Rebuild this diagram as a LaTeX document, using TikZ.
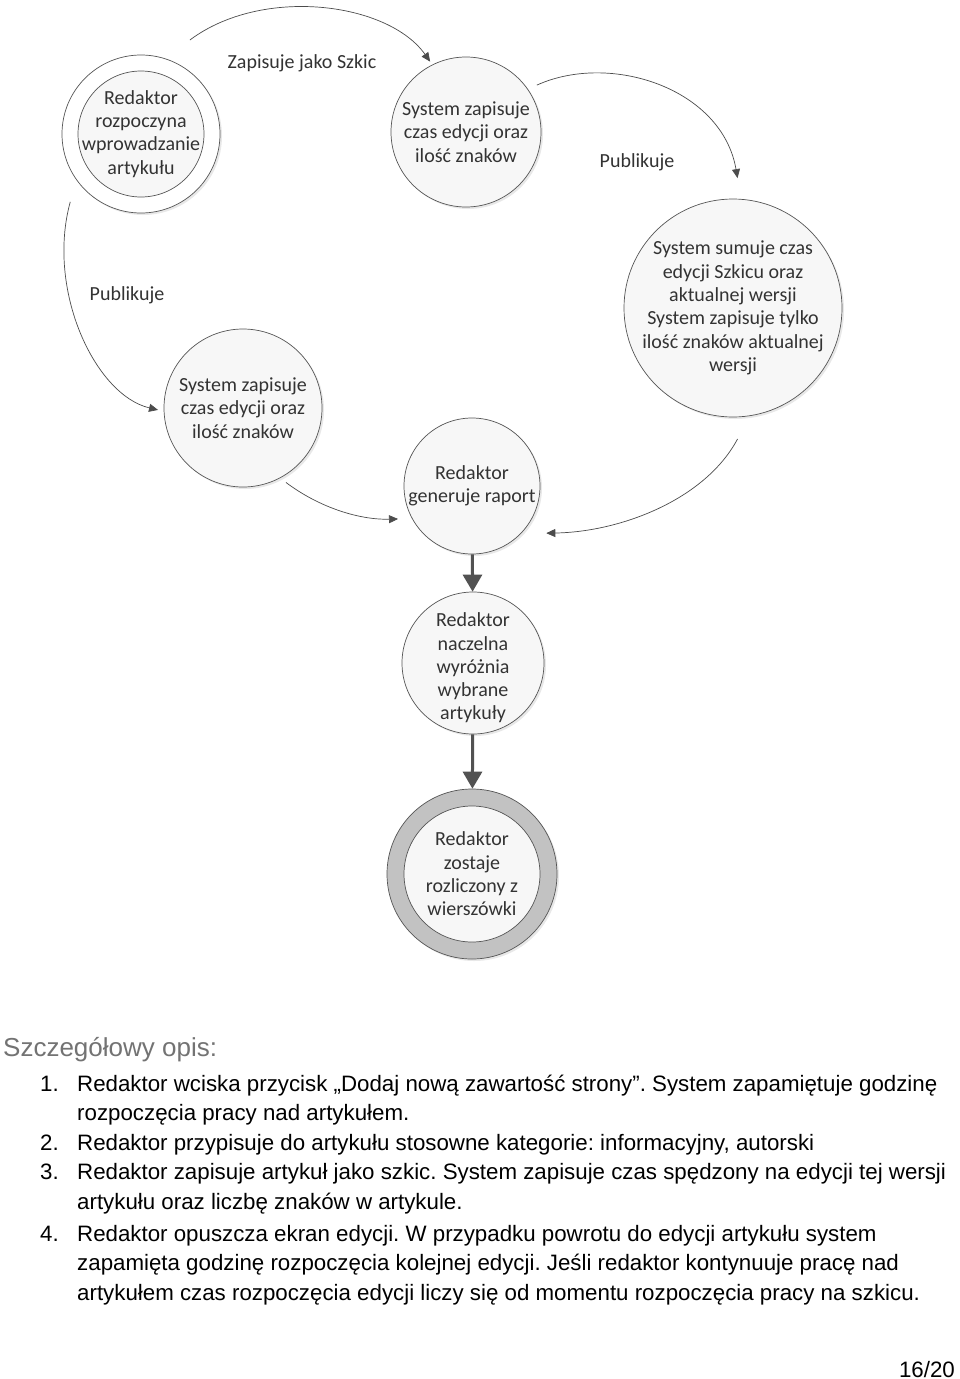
\documentclass[tikz,border=0pt]{standalone}
\usepackage{fontspec}
\setmainfont{Carlito}
\newfontfamily\arialf{Liberation Sans}
\usetikzlibrary{arrows.meta,calc,shadows}
\definecolor{edge}{HTML}{555555}
\definecolor{txt}{HTML}{333333}
\frenchspacing
\begin{document}
\begin{tikzpicture}[x=1pt,y=-1pt,
  shd/.style={drop shadow={shadow xshift=2pt,shadow yshift=-2pt,opacity=0.18,fill=gray}},
  circ/.style={circle,draw=edge,line width=0.7pt,fill=gray!6,inner sep=0pt},
  ctext/.style={align=center,text=txt,inner sep=0pt,font=\fontsize{20}{23.3}\selectfont},
  lbl/.style={font=\fontsize{20}{24}\selectfont,text=txt,inner sep=0pt},
  flow/.style={draw=black!70,line width=0.7pt,-{Triangle[length=9pt,width=8pt]}},
  bigarrow/.style={draw=black!68,line width=3pt,-{Triangle[length=17pt,width=19pt]}},
  body/.style={font=\arialf\fontsize{22.3}{26}\selectfont,anchor=base west,inner sep=0pt,text=black}]
\useasboundingbox (0,0) rectangle (960,1379);
\fill[white] (0,0) rectangle (960,1379);
% circles
\node[circ,fill=white,minimum size=158pt,shd] (c1o) at (141,134) {};
\node[circ,minimum size=126pt] (c1) at (141,134) {};
\node[ctext] (c1t) at (c1) {Redaktor\\rozpoczyna\\wprowadzanie\\artykułu};
\node[circ,shd,minimum size=150pt] (c2) at (466,132) {};
\node[ctext] (c2t) at (c2) {System zapisuje\\czas edycji oraz\\ilość znaków};
\node[circ,shd,minimum size=218pt] (c3) at (733,308) {};
\node[ctext] (c3t) at (c3) {System sumuje czas\\edycji Szkicu oraz\\aktualnej wersji\\System zapisuje tylko\\ilość znaków aktualnej\\wersji};
\node[circ,shd,minimum size=158pt] (c4) at (243,408) {};
\node[ctext] (c4t) at (c4) {System zapisuje\\czas edycji oraz\\ilość znaków};
\node[circ,shd,minimum size=136pt] (c5) at (472,486) {};
\node[ctext] (c5t) at (c5) {Redaktor\\generuje raport};
\node[circ,shd,minimum size=142pt] (c6) at (473,663) {};
\node[ctext] (c6t) at ([yshift=-5pt]c6.center) {Redaktor\\naczelna\\wyróżnia\\wybrane\\artykuły};
\node[circ,fill=gray!48,minimum size=170pt,shd] (c7o) at (472,874) {};
\node[circ,minimum size=136pt] (c7) at (472,874) {};
\node[ctext] (c7t) at (c7) {Redaktor\\zostaje\\rozliczony z\\wierszówki};
% labels
\node[lbl] (l1) at (302,63) {Zapisuje jako Szkic};
\node[lbl] (l2) at (637,162) {Publikuje};
\node[lbl] (l3) at (127,295) {Publikuje};
% curved connectors
\draw[flow] ($(c1)+(62.5:106pt)$) .. controls (262,-14) and (388,2) .. ($(c2)+(117:79pt)$);
\draw[flow] ($(c2)+(33.5:85pt)$) .. controls (610,52) and (722,88) .. ($(c3)+(88:130pt)$);
\draw[flow] ($(c1)+(223.8:98pt)$) .. controls (46,290) and (95,395) .. ($(c4)+(181.3:85pt)$);
\draw[flow] ($(c4)+(-60:86pt)$) .. controls (320,508) and (360,520) .. ($(c5)+(204:81pt)$);
\draw[flow] ($(c3)+(-88:131pt)$) .. controls (705,500) and (620,532) .. ($(c5)+(-32.4:88pt)$);
% straight connectors
\draw[bigarrow] (c5) -- (c6);
\draw[bigarrow] (c6) -- (c7o);
% description
\node[anchor=base west,inner sep=0pt,font=\arialf\fontsize{26}{30}\selectfont,text=black!55] (h) at (3,1056) {Szczegółowy opis:};
\node[body] (n1) at (40,1091) {1.};
\node[body] (t1) at (77,1091) {Redaktor wciska przycisk „Dodaj nową zawartość strony”. System zapamiętuje godzinę};
\node[body] (t1b) at (77,1120) {rozpoczęcia pracy nad artykułem.};
\node[body] (n2) at (40,1150) {2.};
\node[body] (t2) at (77,1150) {Redaktor przypisuje do artykułu stosowne kategorie: informacyjny, autorski};
\node[body] (n3) at (40,1179) {3.};
\node[body] (t3) at (77,1179) {Redaktor zapisuje artykuł jako szkic. System zapisuje czas spędzony na edycji tej wersji};
\node[body] (t3b) at (77,1209) {artykułu oraz liczbę znaków w artykule.};
\node[body] (n4) at (40,1241) {4.};
\node[body] (t4) at (77,1241) {Redaktor opuszcza ekran edycji. W przypadku powrotu do edycji artykułu system};
\node[body] (t4b) at (77,1270) {zapamięta godzinę rozpoczęcia kolejnej edycji. Jeśli redaktor kontynuuje pracę nad};
\node[body] (t4c) at (77,1300) {artykułem czas rozpoczęcia edycji liczy się od momentu rozpoczęcia pracy na szkicu.};
\node[body,anchor=base east] (pg) at (955,1377) {16/20};
\end{tikzpicture}
\end{document}
